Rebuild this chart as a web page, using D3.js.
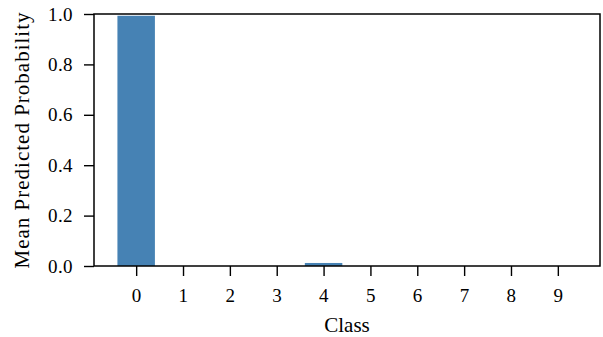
<!DOCTYPE html>
<html>
<head>
<meta charset="utf-8">
<script src="https://cdn.jsdelivr.net/npm/d3@7"></script>
<style>
  body { margin: 0; background: #fff; }
  text { font-family: "Liberation Serif", "DejaVu Serif", serif; fill: #000; }
</style>
</head>
<body>
<div id="chart"></div>
<script>
// mean predicted probability per class
var classes = [0, 1, 2, 3, 4, 5, 6, 7, 8, 9];
var probs = [0.993, 0.0, 0.0, 0.0, 0.012, 0.0, 0.0, 0.0, 0.0, 0.0];
var yTicks = [0.0, 0.2, 0.4, 0.6, 0.8, 1.0];

var width = 603, height = 337;
var margin = { top: 14, right: 3, bottom: 71, left: 94 };

var svg = d3.select('#chart').append('svg')
    .attr('width', width)
    .attr('height', height);

var x = d3.scaleLinear()
    .domain([-0.9, 9.9])
    .range([margin.left, width - margin.right]);

var y = d3.scaleLinear()
    .domain([0, 1])
    .range([height - margin.bottom, margin.top]);

var barW = (x(1) - x(0)) * 0.8;

/* bars */
svg.selectAll('rect.bar')
    .data(probs)
    .enter()
    .append('rect')
    .attr('class', 'bar')
    .attr('x', function(d, i) { return x(classes[i]) - barW / 2; })
    .attr('y', function(d) { return y(d); })
    .attr('width', barW)
    .attr('height', function(d) { return y(0) - y(d); })
    .attr('fill', '#4682b4');

/* axes */
var xAxis = svg.append('g')
    .attr('transform', 'translate(0,' + y(0) + ')')
    .call(d3.axisBottom(x).tickValues(classes).tickSize(10).tickPadding(13).tickFormat(d3.format('d')));

var yAxis = svg.append('g')
    .attr('transform', 'translate(' + x(-0.9) + ',0)')
    .call(d3.axisLeft(y).tickValues(yTicks).tickSize(10).tickPadding(11).tickFormat(d3.format('.1f')));

[xAxis, yAxis].forEach(function(g) {
    g.select('.domain').remove();
    g.selectAll('line').attr('stroke', '#000').attr('stroke-width', 1.4);
    g.selectAll('text')
        .style('font-size', '19px')
        .style('letter-spacing', '0.4px')
        .attr('fill', '#000');
});
xAxis.selectAll('text').attr('dy', '0.71em');

/* frame */
svg.append('rect')
    .attr('x', x(-0.9))
    .attr('y', y(1))
    .attr('width', x(9.9) - x(-0.9))
    .attr('height', y(0) - y(1))
    .attr('fill', 'none')
    .attr('stroke', '#000')
    .attr('stroke-width', 1.5);

/* labels */
svg.append('text')
    .attr('x', (x(-0.9) + x(9.9)) / 2)
    .attr('y', 332)
    .attr('text-anchor', 'middle')
    .style('font-size', '21px')
    .text('Class');

svg.append('text')
    .attr('transform', 'translate(29,' + (y(0) + y(1)) / 2 + ') rotate(-90)')
    .attr('text-anchor', 'middle')
    .style('font-size', '21px')
    .style('letter-spacing', '1px')
    .text('Mean Predicted Probability');
</script>
</body>
</html>
